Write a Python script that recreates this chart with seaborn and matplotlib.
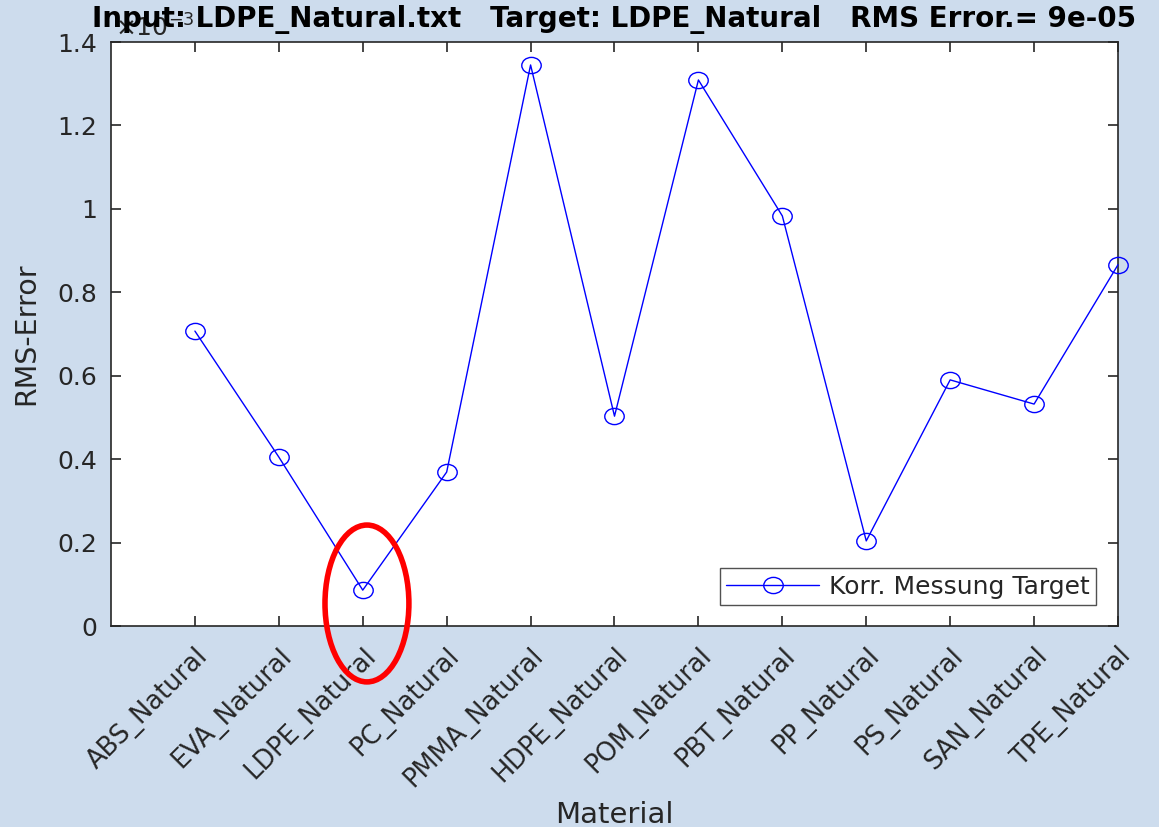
import numpy as np
import matplotlib
matplotlib.use("Agg")
import matplotlib.pyplot as plt
import seaborn as sns
from matplotlib.patches import Ellipse
from matplotlib.path import Path
from matplotlib.ticker import FuncFormatter
from matplotlib.transforms import ScaledTranslation, Affine2D

materials = ["ABS_Natural", "EVA_Natural", "LDPE_Natural", "PC_Natural", "PMMA_Natural",
             "HDPE_Natural", "POM_Natural", "PBT_Natural", "PP_Natural", "PS_Natural",
             "SAN_Natural", "TPE_Natural"]
rms_error = [0.707e-3, 0.405e-3, 0.086e-3, 0.369e-3, 1.345e-3, 0.503e-3,
             1.309e-3, 0.983e-3, 0.204e-3, 0.590e-3, 0.532e-3, 0.866e-3]
y_ticks = [0, 0.2e-3, 0.4e-3, 0.6e-3, 0.8e-3, 1.0e-3, 1.2e-3, 1.4e-3]
highlight = "LDPE_Natural"
title = "Input: LDPE_Natural.txt   Target: LDPE_Natural   RMS Error.= 9e-05"

sns.set_theme(style="white")
plt.rcParams['font.family'] = ['DejaVu Sans']
plt.rcParams['mathtext.fontset'] = 'dejavusans'
bg = "#cddced"
txt = "#262626"
fig = plt.figure(figsize=(11.59, 8.27), dpi=100, facecolor=bg)
ax = fig.add_axes([111 / 1159, 1 - 626 / 827, 1007 / 1159, 584 / 827])
ax.set_facecolor("white")

# slightly wide circle marker (as in the reference)
ell_marker = Path.unit_circle().transformed(Affine2D().scale(1.2, 1.0))

idx = np.arange(len(materials))
sns.lineplot(x=idx, y=rms_error, ax=ax, color="blue", linewidth=1.0, marker=ell_marker,
             markersize=14, markerfacecolor="none", markeredgecolor="blue",
             markeredgewidth=1.0, label="Korr. Messung Target", clip_on=False, zorder=5)

ax.set_xlim(-1, len(materials) - 1)
ax.set_ylim(0, 1.4e-3)
ax.set_xticks(idx)
ax.set_xticklabels(materials, rotation=45, ha="right", va="top", rotation_mode="anchor",
                   fontsize=18.5, color=txt)
shift = ScaledTranslation(16 / 100, 0, fig.dpi_scale_trans)
for lab in ax.get_xticklabels():
    lab.set_transform(lab.get_transform() + shift)
ax.set_yticks(y_ticks)
ax.yaxis.set_major_formatter(FuncFormatter(lambda v, p: f"{v * 1e3:g}"))
ax.tick_params(axis="y", labelsize=18, labelcolor=txt, pad=10)
ax.tick_params(axis="x", pad=12)
ax.tick_params(direction="in", length=7, width=1.2, color=txt,
               top=True, right=True, bottom=True, left=True)
for s in ax.spines.values():
    s.set_color(txt)
    s.set_linewidth(1.2)
    s.set_visible(True)

ax.annotate(r"$\times10^{-3}$", xy=(0, 1), xycoords="axes fraction",
            xytext=(3, 0), textcoords="offset points", ha="left", va="bottom",
            fontsize=18, color=txt, zorder=1)

ax.set_xlabel("Material", fontsize=21, color=txt)
ax.xaxis.set_label_coords(0.5, -(801 - 626) / 584)
ax.set_ylabel("RMS-Error", fontsize=20.5, color=txt, labelpad=12)
ax.set_title(title, fontsize=20, fontweight="bold", color="black", pad=11, zorder=3)

leg = ax.legend(loc="lower right", fontsize=18, frameon=True, fancybox=False,
                edgecolor=txt, borderpad=0.25, handlelength=3.7, handletextpad=0.4,
                borderaxespad=0, bbox_to_anchor=(0.978, 0.036))
leg.get_frame().set_linewidth(1.0)

hi = materials.index(highlight)
ell = Ellipse((hi + 0.05, rms_error[hi] - 0.032e-3), width=1.0, height=0.376e-3,
              fill=False, edgecolor="red", linewidth=4, clip_on=False, zorder=10)
ax.add_patch(ell)

fig.savefig("out.png", dpi=100, facecolor=bg)
